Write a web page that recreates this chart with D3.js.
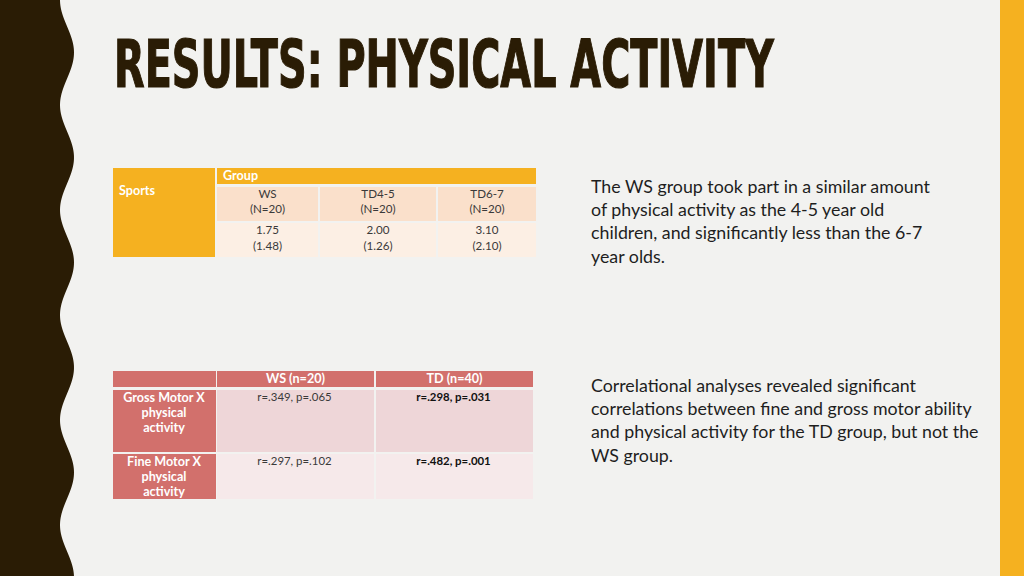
<!DOCTYPE html>
<html>
<head>
<meta charset="utf-8">
<script src="https://cdn.jsdelivr.net/npm/d3@7"></script>
<style>
  html, body { margin: 0; padding: 0; background: #f2f2f0; }
  svg { display: block; }
</style>
</head>
<body>
<svg id="slide"></svg>
<script>
/**
 * Slide data
 */
var titleText = "RESULTS: PHYSICAL ACTIVITY";

// sports table
var sportsRowLabel = "Sports";
var sportsHeader = "Group";
var sportsGroups = ["WS", "TD4-5", "TD6-7"];
var sportsN = ["(N=20)", "(N=20)", "(N=20)"];
var sportsMeans = ["1.75", "2.00", "3.10"];
var sportsSDs = ["(1.48)", "(1.26)", "(2.10)"];

// correlation table
var corrCols = ["WS (n=20)", "TD (n=40)"];
var corrRows = [["Gross Motor X", "physical", "activity"], ["Fine Motor X", "physical", "activity"]];
var corrValues = [["r=.349, p=.065", "r=.298, p=.031"], ["r=.297, p=.102", "r=.482, p=.001"]];
var corrSig = [[false, true], [false, true]];

// notes on the right
var note1 = ["The WS group took part in a similar amount",
             "of physical activity as the 4-5 year old",
             "children, and significantly less than the 6-7",
             "year olds."];
var note2 = ["Correlational analyses revealed significant",
             "correlations between fine and gross motor ability",
             "and physical activity for the TD group, but not the",
             "WS group."];

/**
 * Drawing
 */
var width = 1024, height = 576;
var brown = "#2a1c05", orange = "#f5b120", salmon = "#d2706c";
var bodyFont = "Lato, 'Open Sans', sans-serif";
var smallSize = "11.6px", boldSize = "12.6px";

var svg = d3.select("#slide").attr("width", width).attr("height", height);

svg.append("rect").attr("width", width).attr("height", height).attr("fill", "#f2f2f0");

// wavy left band
var wave = d3.range(0, height + 1, 2).map(function(y){
    return [67 - 7 * Math.cos(2 * Math.PI * y / 105), y];
});
var bandPath = d3.line().curve(d3.curveBasis)(wave);
svg.append("path")
    .attr("d", "M0,0 L" + bandPath.slice(1) + " L0," + height + " Z")
    .attr("fill", brown);

// right orange strip
svg.append("rect").attr("x", 1000).attr("y", 0).attr("width", 24).attr("height", height).attr("fill", orange);

// title, squeezed horizontally to the slide's width
var title = svg.append("text")
    .attr("x", 0).attr("y", 0)
    .style("font-family", "'Liberation Sans Narrow', 'DejaVu Sans Condensed', sans-serif")
    .style("font-weight", "bold")
    .style("font-size", "66px")
    .attr("fill", brown)
    .attr("stroke", brown).attr("stroke-width", 1.2)
    .text(titleText);
var tLen = title.node().getComputedTextLength();
title.attr("transform", "translate(114,87) scale(" + (660 / tLen) + ",1)");

// ---- sports table ----
var t1 = svg.append("g");
var x1 = d3.scaleOrdinal().domain(sportsGroups).range([217, 320, 438]);
var w1 = d3.scaleOrdinal().domain(sportsGroups).range([101, 116, 98]);

t1.append("rect").attr("x", 113).attr("y", 168).attr("width", 102).attr("height", 89).attr("fill", orange);
t1.append("text").attr("x", 119).attr("y", 195)
    .style("font-family", bodyFont).style("font-weight", "bold").style("font-size", boldSize)
    .attr("fill", "#fff").text(sportsRowLabel);

t1.append("rect").attr("x", 217).attr("y", 168).attr("width", 319).attr("height", 16).attr("fill", orange);
t1.append("text").attr("x", 223).attr("y", 180)
    .style("font-family", bodyFont).style("font-weight", "bold").style("font-size", boldSize)
    .attr("fill", "#fff").text(sportsHeader);

var cells1 = t1.selectAll("g.col").data(sportsGroups).enter().append("g").attr("class", "col");
cells1.append("rect")
    .attr("x", function(d){ return x1(d); }).attr("y", 187)
    .attr("width", function(d){ return w1(d); }).attr("height", 34)
    .attr("fill", "#fae0cb");
cells1.append("rect")
    .attr("x", function(d){ return x1(d); }).attr("y", 223)
    .attr("width", function(d){ return w1(d); }).attr("height", 34)
    .attr("fill", "#fcefe4");

function cellText(sel, arr, y){
    sel.append("text")
        .attr("x", function(d){ return x1(d) + w1(d) / 2; })
        .attr("y", y)
        .attr("text-anchor", "middle")
        .style("font-family", bodyFont).style("font-size", smallSize)
        .attr("fill", "#3a3a3a")
        .text(function(d, i){ return arr[i]; });
}
cellText(cells1, sportsGroups, 198);
cellText(cells1, sportsN, 213);
cellText(cells1, sportsMeans, 234);
cellText(cells1, sportsSDs, 250);

// ---- correlation table ----
var t2 = svg.append("g");
var x2 = d3.scaleOrdinal().domain(corrCols).range([217, 376]);
var w2 = 157;
var rowY = [390, 454], rowH = [62, 45];

t2.append("rect").attr("x", 113).attr("y", 371).attr("width", 103).attr("height", 16).attr("fill", salmon);
t2.selectAll("rect.hd").data(corrCols).enter().append("rect").attr("class", "hd")
    .attr("x", function(d){ return x2(d); }).attr("y", 371)
    .attr("width", w2).attr("height", 16).attr("fill", salmon);
t2.selectAll("text.hd").data(corrCols).enter().append("text").attr("class", "hd")
    .attr("x", function(d){ return x2(d) + w2 / 2; }).attr("y", 383)
    .attr("text-anchor", "middle")
    .style("font-family", bodyFont).style("font-weight", "bold").style("font-size", boldSize)
    .attr("fill", "#fff").text(function(d){ return d; });

var rows2 = t2.selectAll("g.row").data(corrRows).enter().append("g").attr("class", "row");
rows2.append("rect")
    .attr("x", 113).attr("y", function(d, i){ return rowY[i]; })
    .attr("width", 103).attr("height", function(d, i){ return rowH[i]; })
    .attr("fill", salmon);
rows2.each(function(d, i){
    var g = d3.select(this);
    g.selectAll("text.lab").data(d).enter().append("text").attr("class", "lab")
        .attr("x", 164).attr("y", function(t, j){ return rowY[i] + 12 + j * 15; })
        .attr("text-anchor", "middle")
        .style("font-family", bodyFont).style("font-weight", "bold").style("font-size", boldSize)
        .attr("fill", "#fff").text(function(t){ return t; });
    g.selectAll("rect.val").data(corrCols).enter().append("rect").attr("class", "val")
        .attr("x", function(c){ return x2(c); }).attr("y", rowY[i])
        .attr("width", w2).attr("height", rowH[i])
        .attr("fill", i === 0 ? "#eed6d8" : "#f6e9ea");
    g.selectAll("text.val").data(corrCols).enter().append("text").attr("class", "val")
        .attr("x", function(c){ return x2(c) + w2 / 2 - 1; }).attr("y", rowY[i] + 11)
        .attr("text-anchor", "middle")
        .style("font-family", bodyFont).style("font-size", "11.4px")
        .style("font-weight", function(c, j){ return corrSig[i][j] ? "bold" : "normal"; })
        .attr("fill", function(c, j){ return corrSig[i][j] ? "#111" : "#3a3a3a"; })
        .text(function(c, j){ return corrValues[i][j]; });
});

// ---- notes ----
function note(lines, y0){
    svg.append("g").selectAll("text").data(lines).enter().append("text")
        .attr("x", 591).attr("y", function(d, i){ return y0 + i * 23.2; })
        .style("font-family", bodyFont).style("font-size", "17.8px")
        .attr("fill", "#1e1e1e")
        .text(function(d){ return d; });
}
note(note1, 193);
note(note2, 392);
</script>
</body>
</html>
